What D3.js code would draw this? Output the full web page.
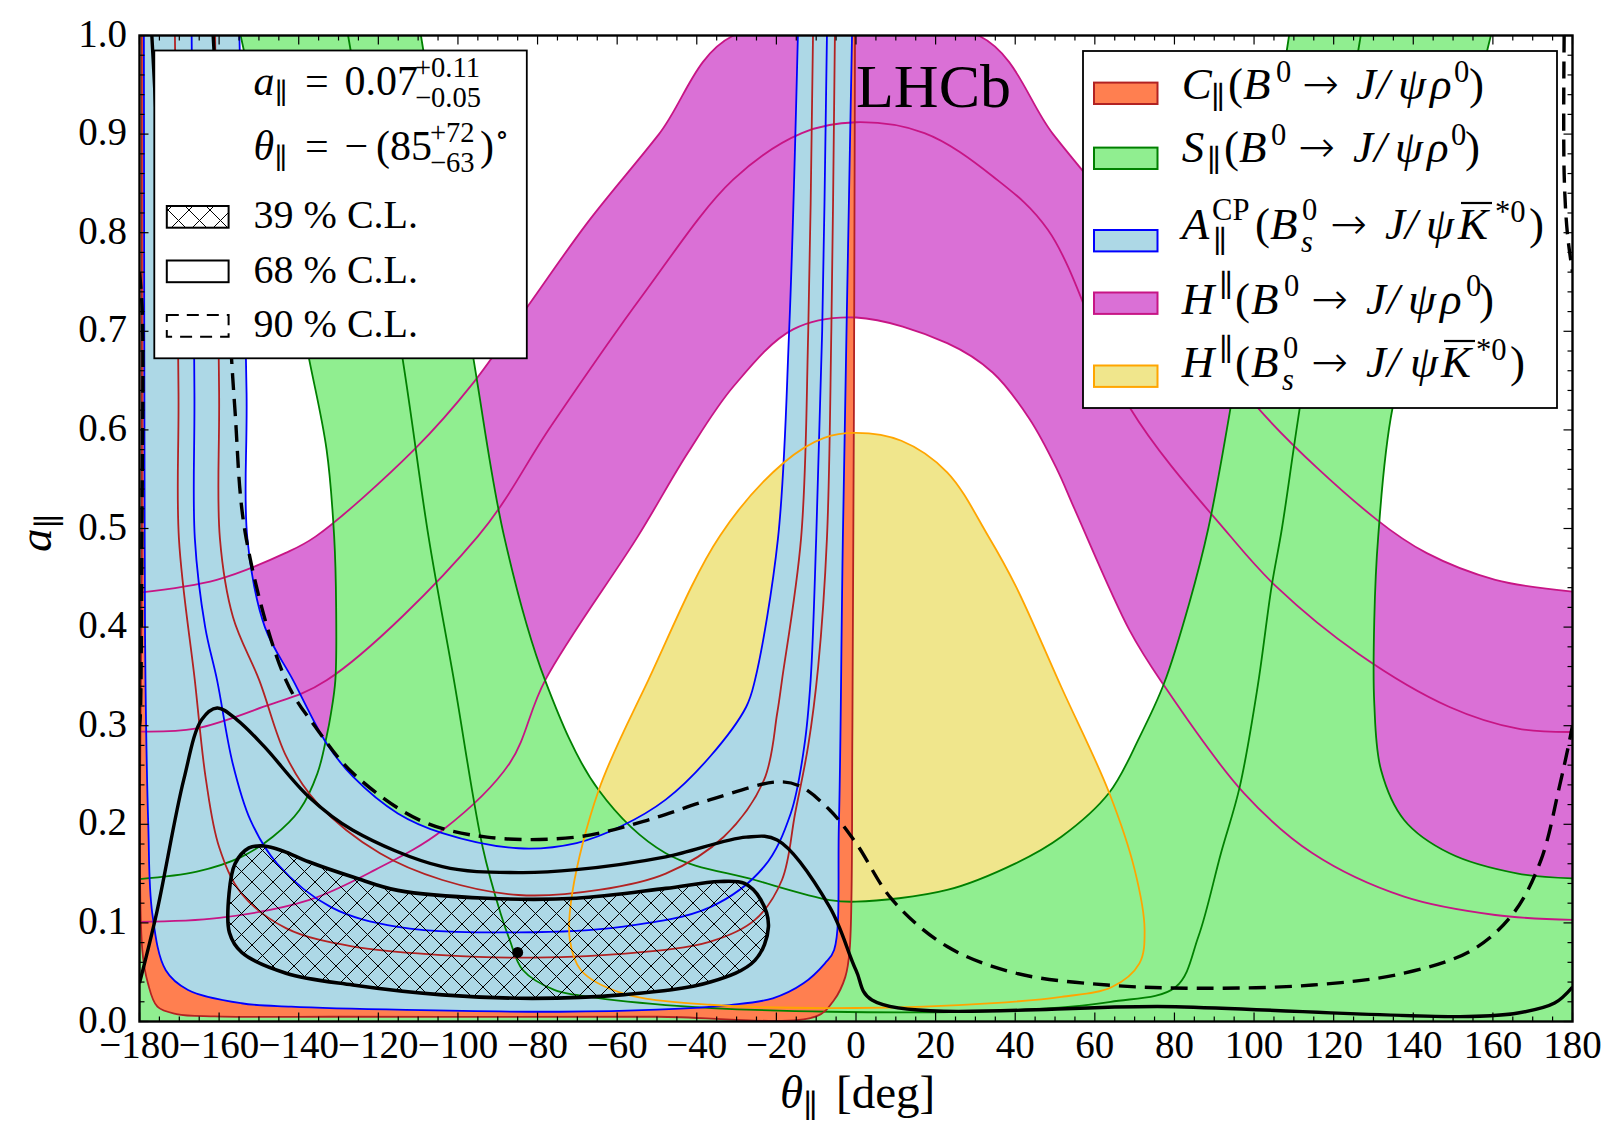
<!DOCTYPE html>
<html>
<head>
<meta charset="utf-8">
<script src="https://cdn.jsdelivr.net/npm/d3@7"></script>
<style>
  body { margin: 0; background: #fff; }
  svg text { font-family: "Liberation Serif", "DejaVu Serif", serif; fill: #000; }
</style>
</head>
<body>
<svg id="chart" width="1613" height="1127"></svg>
<script>
// ---- axis ticks ----
const thetaTicks = [-180, -160, -140, -120, -100, -80, -60, -40, -20, 0, 20, 40, 60, 80, 100, 120, 140, 160, 180];
const aTicks = [0.0, 0.1, 0.2, 0.3, 0.4, 0.5, 0.6, 0.7, 0.8, 0.9, 1.0];

// ---- C_par (B0 -> J/psi rho0): lower edge, central, upper edge  [theta, a] ----
const cLow = [[-179.45,1.0],[-179.4,0.5],[-179.3,0.0725],[-177.9,0.039],[-175.5,0.015],[-170.7,0.0076],[-161.1,0.0052],[-130,0.0048],[-90,0.0047],[-50,0.0048],[-10.0,0.0052],[-5.5,0.0218],[-2.7,0.045],[-1.6,0.0725],[-0.9,0.3],[-0.25,1.0]];
const cMid = [[-171.1,1.0],[-170.2,0.637],[-170.1,0.49],[-166.1,0.346],[-163.3,0.245],[-160.0,0.177],[-154.4,0.130],[-143.1,0.0945],[-126.3,0.0759],[-103.9,0.0674],[-84.8,0.0647],[-59.0,0.0685],[-36.6,0.081],[-25.4,0.103],[-18.6,0.1435],[-15.3,0.211],[-12.0,0.28],[-9.5,0.36],[-7.3,0.49],[-6.2,0.7],[-5.3,1.0]];
const cHigh = [[-161.0,1.0],[-160.0,0.637],[-159.8,0.49],[-156.5,0.41],[-149.9,0.346],[-143.1,0.2686],[-135.3,0.2213],[-119.6,0.1706],[-103.9,0.1435],[-84.8,0.1283],[-64.6,0.1334],[-47.8,0.150],[-33.2,0.1874],[-23.1,0.245],[-19.8,0.3126],[-18.6,0.346],[-13.8,0.49],[-12.0,0.7],[-10.8,1.0]];

// ---- A_par^CP (Bs0 -> J/psi K*0bar) ----
const aLow = [[-178.9,1.0],[-178.7,0.49],[-178.5,0.346],[-177.8,0.2],[-176.8,0.110],[-173.4,0.052],[-167.8,0.032],[-154.4,0.0185],[-141.9,0.015],[-113.1,0.0117],[-74.6,0.0099],[-50,0.012],[-31.7,0.0167],[-20.9,0.0235],[-13.2,0.0387],[-7.8,0.059],[-5.5,0.0725],[-4.3,0.2],[-3.3,0.49],[-1.0,1.0]];
const aMid = [[-166.9,1.0],[-166.2,0.637],[-166.1,0.49],[-163.5,0.40],[-160.5,0.346],[-156.6,0.262],[-152.1,0.204],[-145.4,0.160],[-131.9,0.116],[-115.1,0.096],[-84.8,0.0904],[-59.0,0.096],[-36.6,0.116],[-23.1,0.157],[-16.4,0.211],[-13.0,0.279],[-11.4,0.346],[-10.0,0.49],[-8.5,0.7],[-7.3,1.0]];
const aHigh = [[-154.9,1.0],[-153.1,0.637],[-152.9,0.49],[-148.5,0.40],[-141.4,0.346],[-133.0,0.282],[-126.3,0.248],[-115.1,0.211],[-103.9,0.191],[-84.8,0.1757],[-70.2,0.181],[-59.0,0.198],[-47.8,0.225],[-36.6,0.269],[-27.6,0.319],[-25.4,0.346],[-19.6,0.49],[-16.8,0.7],[-14.6,1.0]];

// ---- H^par (B0 -> J/psi rho0) ----
const hRhoOuter = [[-180,0.435],[-160.6,0.448],[-143.4,0.475],[-135.7,0.492],[-111.0,0.580],[-96.1,0.648],[-82.4,0.7257],[-67.5,0.810],[-49.5,0.900],[-30.8,1.0],[30.8,1.0],[49.5,0.900],[67.5,0.810],[82.4,0.7257],[100.9,0.6225],[130.8,0.509],[143.4,0.475],[160.6,0.448],[180,0.436]];
const hRhoMid = [[-180,0.294],[-166,0.297],[-149,0.319],[-133.0,0.346],[-95.0,0.492],[-76.6,0.604],[-53.7,0.736],[-30.8,0.854],[-13.6,0.901],[0,0.912],[17.2,0.901],[34.4,0.857],[48.2,0.803],[68.8,0.6225],[94.0,0.4924],[105.6,0.441],[126.2,0.373],[149.1,0.319],[166.3,0.297],[180,0.2936]];
const hRhoInner = [[-180,0.101],[-160,0.105],[-137.5,0.123],[-120.7,0.154],[-103.9,0.194],[-87.0,0.262],[-78.1,0.346],[-54.8,0.492],[-42.2,0.577],[-30.7,0.6445],[-15.8,0.702],[0,0.714],[22.9,0.688],[34.4,0.658],[43.6,0.611],[50.5,0.56],[55.0,0.519],[68.7,0.397],[77.0,0.343],[97.5,0.2314],[114.7,0.1706],[137.7,0.1266],[160.6,0.108],[180,0.103]];

// ---- S_par (B0 -> J/psi rho0) ----
const sEdgeLeft = [[-154.6,1.0],[-146.0,0.84],[-137.4,0.672],[-133.0,0.58],[-131.1,0.492],[-130.6,0.42],[-130.8,0.346],[-131.9,0.3126],[-133.0,0.289],[-135.3,0.2517],[-139.8,0.2145],[-146.5,0.1874],[-154.4,0.167],[-165.6,0.152],[-180,0.1445]];
const sEdgeRight = [[159.5,1.0],[147.0,0.80],[134.8,0.6225],[131.2,0.4924],[130.2,0.407],[130.2,0.3227],[131.9,0.255],[137.7,0.2044],[149.1,0.1706],[166.3,0.150],[180,0.1452]];
const sEdgeInner = [[-109.3,1.0],[-96.1,0.672],[-88.4,0.492],[-78.1,0.346],[-64.7,0.235],[-47.8,0.1706],[-25.4,0.1435],[-6.6,0.1232],[0,0.1215],[22.9,0.1334],[40.1,0.1604],[51.6,0.1874],[63.6,0.232],[71.3,0.289],[77.4,0.343],[83.7,0.424],[88.5,0.50],[94.1,0.6225],[108.8,1.0]];
const sCentral = [[-127.6,1.0],[-113.9,0.672],[-107.4,0.492],[-101.0,0.346],[-93.8,0.177],[-89.3,0.1097],[-87.0,0.0827],[-83.7,0.0522],[-75.8,0.032],[-70.2,0.0269],[-47.8,0.0167],[-6.6,0.0099],[40.8,0.0117],[64,0.020],[80.3,0.035],[86.0,0.086],[91.7,0.171],[96.4,0.238],[100.9,0.3396],[104.4,0.441],[107.0,0.50],[111.5,0.6225],[126.8,1.0]];

// ---- H^par (Bs0 -> J/psi K*0bar), closed contour ----
const hKst = [[0,0.597],[11.4,0.589],[22.9,0.557],[33.2,0.4924],[40.2,0.441],[51.6,0.339],[63.6,0.232],[70.0,0.154],[72.5,0.093],[71.2,0.059],[64.3,0.035],[51.6,0.025],[34.5,0.0187],[0,0.0137],[-36.7,0.017],[-59.0,0.029],[-69.1,0.052],[-71.9,0.083],[-71.3,0.130],[-64.6,0.235],[-52.2,0.346],[-34.2,0.4925],[-18.1,0.567],[-8.0,0.592]];

// ---- combined likelihood contours ----
const cl39 = [[-157.4,0.09],[-157.5,0.13],[-156.0,0.16],[-152.5,0.176],[-148.7,0.178],[-144.0,0.173],[-137.5,0.162],[-126.0,0.146],[-115.1,0.133],[-92.7,0.125],[-70.3,0.125],[-47.8,0.135],[-34.3,0.142],[-28.0,0.140],[-24.0,0.124],[-22.0,0.096],[-25.4,0.062],[-36.6,0.040],[-59.0,0.027],[-81.4,0.0235],[-103.9,0.027],[-126.4,0.037],[-143.2,0.049],[-154.3,0.070]];
const cl68 = [[-180,0.039],[-175.7,0.110],[-168.9,0.245],[-164.4,0.306],[-160.5,0.318],[-155.5,0.306],[-148.7,0.279],[-137.5,0.228],[-126.4,0.194],[-103.9,0.157],[-84.8,0.151],[-70.3,0.154],[-47.8,0.167],[-27.6,0.187],[-19.8,0.184],[-6.6,0.116],[0,0.052],[4.0,0.0218],[80.3,0.015],[153.8,0.005],[166.3,0.0086],[175.5,0.0187],[180,0.035]];
const cl68Corner = [[-176.9,1.0],[-176.1,0.94],[-175.6,0.90]];
const cl90 = [[-161.5,1.0],[-158.8,0.81],[-156.1,0.625],[-153.2,0.49],[-143.2,0.346],[-135.3,0.296],[-126.4,0.252],[-109.5,0.204],[-92.7,0.187],[-70.3,0.187],[-53.4,0.203],[-36.6,0.225],[-19.8,0.243],[-14.2,0.239],[-6.6,0.2145],[0,0.181],[9.2,0.123],[22.9,0.076],[40.2,0.049],[63.1,0.037],[86.0,0.0337],[114.7,0.037],[137.7,0.049],[154.8,0.0725],[165.2,0.110],[172.1,0.164],[176.7,0.238],[178.9,0.278],[180,0.30]];
const cl90EdgeRight = [[177.9,1.0],[177.9,0.86],[178.7,0.80],[180,0.76]];
const cl90EdgeLeft = [[-180,0.76],[-179.3,0.72],[-179.4,0.50],[-179.8,0.31],[-180,0.30]];
const bestFit = [-85, 0.07];

// ---- colours ----
const col = {
  c: { fill: "#FF7F50", edge: "#B22222" },
  s: { fill: "#90EE90", edge: "#008000" },
  a: { fill: "#ADD8E6", edge: "#0000FF" },
  h: { fill: "#DA70D6", edge: "#C71585" },
  k: { fill: "#F0E68C", edge: "#FFA500" }
};

// ---- layout ----
const L = 139.5, R = 1572.5, T = 35.5, B = 1021.5;
const svg = d3.select("#chart");
const x = d3.scaleLinear().domain([-180, 180]).range([L, R]);
const y = d3.scaleLinear().domain([0, 1]).range([B, T]);
const line = d3.line().x(d => x(d[0])).y(d => y(d[1])).curve(d3.curveCatmullRom.alpha(0.5));
const loop = d3.line().x(d => x(d[0])).y(d => y(d[1])).curve(d3.curveCatmullRomClosed.alpha(0.5));

const defs = svg.append("defs");
defs.append("clipPath").attr("id", "plotClip")
  .append("rect").attr("x", L).attr("y", T).attr("width", R - L).attr("height", B - T);
const hp = 21;
defs.append("pattern").attr("id", "hatchX")
  .attr("patternUnits", "userSpaceOnUse").attr("width", hp).attr("height", hp)
  .append("path").attr("d", `M0,0L${hp},${hp}M${hp},0L0,${hp}M-1,${hp - 1}L1,${hp + 1}M${hp - 1},-1L${hp + 1},1`)
  .attr("stroke", "#000").attr("stroke-width", 1);

// join curve pieces into one closed region outline
function region(pieces) {
  let s = "";
  pieces.forEach((p, i) => {
    if (p.length === 1) s += (i ? "L" : "M") + x(p[0][0]) + "," + y(p[0][1]);
    else { const d = line(p); s += i ? "L" + d.slice(1) : d; }
  });
  return s + "Z";
}
const rev = a => a.slice().reverse();

const plot = svg.append("g").attr("clip-path", "url(#plotClip)");

// filled bands, back to front
plot.append("path").attr("d", region([hRhoOuter, rev(hRhoInner)])).attr("fill", col.h.fill);
plot.append("path").attr("d", loop(hKst)).attr("fill", col.k.fill);
plot.append("path").attr("d", region([[[-180, 0]], rev(sEdgeLeft), sEdgeInner, sEdgeRight, [[180, 0]]])).attr("fill", col.s.fill);
plot.append("path").attr("d", region([cHigh, rev(cLow)])).attr("fill", col.c.fill);
plot.append("path").attr("d", region([aHigh, rev(aLow)])).attr("fill", col.a.fill);

// band edges and central curves
const lw = 1.8;
[[hRhoOuter, col.h.edge], [hRhoMid, col.h.edge], [hRhoInner, col.h.edge],
 [sEdgeLeft, col.s.edge], [sEdgeRight, col.s.edge], [sEdgeInner, col.s.edge], [sCentral, col.s.edge],
 [cLow, col.c.edge], [cMid, col.c.edge], [cHigh, col.c.edge],
 [aLow, col.a.edge], [aMid, col.a.edge], [aHigh, col.a.edge]
].forEach(([d, c]) => plot.append("path").attr("d", line(d)).attr("fill", "none").attr("stroke", c).attr("stroke-width", lw));
plot.append("path").attr("d", loop(hKst)).attr("fill", "none").attr("stroke", col.k.edge).attr("stroke-width", lw);

// confidence-level contours
plot.append("path").attr("d", loop(cl39)).attr("fill", "url(#hatchX)").attr("stroke", "#000").attr("stroke-width", 3.6);
[cl68, cl68Corner].forEach(d => plot.append("path").attr("d", line(d)).attr("fill", "none").attr("stroke", "#000").attr("stroke-width", 3.4));
[cl90, cl90EdgeRight, cl90EdgeLeft].forEach(d => plot.append("path").attr("d", line(d)).attr("fill", "none")
  .attr("stroke", "#000").attr("stroke-width", 3.4).attr("stroke-dasharray", "17,9"));
plot.append("circle").attr("cx", x(bestFit[0])).attr("cy", y(bestFit[1])).attr("r", 5.5).attr("fill", "#000");

// ---- math-style text: one <text> per expression, tspans for scripts ----
function mt(g, x0, y0, size, parts) {
  const t = g.append("text").attr("x", x0).attr("y", y0);
  let cx = x0, held = 0;
  parts.forEach(p => {
    const s = p.fs || ((p.sub || p.sup) ? size * 0.68 : size);
    let dy = p.dy || 0;
    if (p.sup) dy = p.stack ? -size * 0.42 : -size * 0.38;
    if (p.sub) dy = p.stack ? size * 0.28 : size * 0.20;
    if (p.at !== undefined) cx = p.at;
    cx += p.gl || 0;
    const ts = t.append("tspan").attr("x", cx).attr("y", y0 + dy)
      .style("font-size", s + "px").style("font-style", p.i ? "italic" : "normal").text(p.t);
    if (p.ff) ts.style("font-family", p.ff);
    if (p.fw) ts.style("font-weight", p.fw);
    const w = ts.node().getComputedTextLength();
    if (p.bar) g.append("line").attr("x1", cx + 3).attr("x2", cx + w + 4)
      .attr("y1", y0 + dy - s * 0.80).attr("y2", y0 + dy - s * 0.80).attr("stroke", "#000").attr("stroke-width", 2.2);
    if (p.hold) held = w;
    else { cx += Math.max(w, held) + (p.gr || 0); held = 0; }
  });
  return t;
}

// ---- LHCb label ----
svg.append("text").attr("x", 856).attr("y", 107).style("font-size", "62px").text("LHCb");

// ---- left legend ----
const lg = svg.append("g");
lg.append("rect").attr("x", 154.3).attr("y", 50.5).attr("width", 372.5).attr("height", 307.8)
  .attr("fill", "#fff").attr("stroke", "#000").attr("stroke-width", 1.8);
mt(lg, 253.6, 95, 42, [{ t: "a", i: 1 }, { t: "∥", sub: 1 }, { t: "=", at: 305 }, { t: "0.07", at: 344.6 },
  { t: "+0.11", sup: 1, stack: 1, hold: 1, at: 415 }, { t: "−0.05", sub: 1, stack: 1, at: 415 }]);
mt(lg, 253.6, 160, 42, [{ t: "θ", i: 1 }, { t: "∥", sub: 1 }, { t: "=", at: 305 }, { t: "−", at: 344.6 }, { t: "(", at: 376 },
  { t: "85", at: 390 }, { t: "+72", sup: 1, stack: 1, hold: 1, at: 430 }, { t: "−63", sub: 1, stack: 1, at: 430 }, { t: ")", at: 480 }, { t: "∘", sup: 1, at: 495 }]);
lg.append("rect").attr("x", 166.8).attr("y", 206).attr("width", 61.8).attr("height", 21.7)
  .attr("fill", "url(#hatchX)").attr("stroke", "#000").attr("stroke-width", 2);
lg.append("rect").attr("x", 166.8).attr("y", 260.5).attr("width", 61.8).attr("height", 21.7)
  .attr("fill", "none").attr("stroke", "#000").attr("stroke-width", 2);
lg.append("rect").attr("x", 166.8).attr("y", 315).attr("width", 61.8).attr("height", 21.7)
  .attr("fill", "none").attr("stroke", "#000").attr("stroke-width", 2).attr("stroke-dasharray", "12,8");
[["39 % C.L.", 227.7], ["68 % C.L.", 282.7], ["90 % C.L.", 337.3]].forEach(([t, yy]) =>
  lg.append("text").attr("x", 253.6).attr("y", yy).style("font-size", "40px").text(t));

// ---- right legend ----
const rg = svg.append("g");
rg.append("rect").attr("x", 1083).attr("y", 51).attr("width", 474).attr("height", 357)
  .attr("fill", "#fff").attr("stroke", "#000").attr("stroke-width", 1.8);
const arr = at => ({ t: "→", at: at, ff: "DejaVu Sans", fs: 44, fw: 200 });
const entries = [
  { c: col.c, py: 93.3, ty: 99, parts: [{ t: "C", i: 1, at: 1181.7 }, { t: "∥", sub: 1, at: 1211 }, { t: "(", at: 1228 }, { t: "B", i: 1, at: 1243 }, { t: "0", sup: 1, at: 1276 }, arr(1302), { t: "J", i: 1, at: 1356 }, { t: "/", i: 1, at: 1377 }, { t: "ψ", i: 1, at: 1398 }, { t: "ρ", i: 1, at: 1430 }, { t: "0", sup: 1, at: 1454 }, { t: ")", at: 1469 }] },
  { c: col.s, py: 158.3, ty: 162, parts: [{ t: "S", i: 1, at: 1181.7 }, { t: "∥", sub: 1, at: 1207 }, { t: "(", at: 1224 }, { t: "B", i: 1, at: 1239 }, { t: "0", sup: 1, at: 1271 }, arr(1298), { t: "J", i: 1, at: 1353 }, { t: "/", i: 1, at: 1374 }, { t: "ψ", i: 1, at: 1395 }, { t: "ρ", i: 1, at: 1427 }, { t: "0", sup: 1, at: 1451 }, { t: ")", at: 1465 }] },
  { c: col.a, py: 240.7, ty: 239, parts: [{ t: "A", i: 1, at: 1181.7 }, { t: "CP", sup: 1, stack: 1, hold: 1, at: 1212 }, { t: "∥", sub: 1, stack: 1, at: 1213 }, { t: "(", at: 1255 }, { t: "B", i: 1, at: 1270 }, { t: "0", sup: 1, stack: 1, hold: 1, at: 1302 }, { t: "s", sub: 1, stack: 1, i: 1, at: 1301 }, arr(1330), { t: "J", i: 1, at: 1385 }, { t: "/", i: 1, at: 1405 }, { t: "ψ", i: 1, at: 1426 }, { t: "K", i: 1, bar: 1, at: 1458 }, { t: "*0", sup: 1, at: 1495 }, { t: ")", at: 1529 }] },
  { c: col.h, py: 303.2, ty: 313.5, parts: [{ t: "H", i: 1, at: 1181.7 }, { t: "∥", sup: 1, at: 1219 }, { t: "(", at: 1235 }, { t: "B", i: 1, at: 1251 }, { t: "0", sup: 1, at: 1284 }, arr(1311), { t: "J", i: 1, at: 1366 }, { t: "/", i: 1, at: 1387 }, { t: "ψ", i: 1, at: 1408 }, { t: "ρ", i: 1, at: 1440 }, { t: "0", sup: 1, at: 1466 }, { t: ")", at: 1479 }] },
  { c: col.k, py: 376.2, ty: 377, parts: [{ t: "H", i: 1, at: 1181.7 }, { t: "∥", sup: 1, at: 1219 }, { t: "(", at: 1235 }, { t: "B", i: 1, at: 1251 }, { t: "0", sup: 1, stack: 1, hold: 1, at: 1283 }, { t: "s", sub: 1, stack: 1, i: 1, at: 1282 }, arr(1311), { t: "J", i: 1, at: 1366 }, { t: "/", i: 1, at: 1387 }, { t: "ψ", i: 1, at: 1410 }, { t: "K", i: 1, bar: 1, at: 1441 }, { t: "*0", sup: 1, at: 1476 }, { t: ")", at: 1510 }] }
];
entries.forEach(e => {
  rg.append("rect").attr("x", 1094).attr("y", e.py - 10.7).attr("width", 63.5).attr("height", 21.4)
    .attr("fill", e.c.fill).attr("stroke", e.c.edge).attr("stroke-width", 2);
  mt(rg, 1181.7, e.ty, 45, e.parts);
});

// ---- frame and inward ticks ----
const ax = svg.append("g");
const tk = (x1, y1, x2, y2) => ax.append("line").attr("x1", x1).attr("y1", y1).attr("x2", x2).attr("y2", y2)
  .attr("stroke", "#000").attr("stroke-width", 1.2);
d3.range(-180, 181, 5).forEach(v => {
  const len = v % 20 === 0 ? 9 : 5;
  tk(x(v), B, x(v), B - len); tk(x(v), T, x(v), T + len);
});
d3.range(0, 51, 1).forEach(k => {
  const v = k / 50, len = k % 5 === 0 ? 9 : 5;
  tk(L, y(v), L + len, y(v)); tk(R, y(v), R - len, y(v));
});
ax.append("rect").attr("x", L).attr("y", T).attr("width", R - L).attr("height", B - T)
  .attr("fill", "none").attr("stroke", "#000").attr("stroke-width", 2.4);

// tick labels
thetaTicks.forEach(v => svg.append("text").attr("x", x(v)).attr("y", 1058)
  .attr("text-anchor", "middle").style("font-size", "39px").text(v < 0 ? "−" + Math.abs(v) : String(v)));
aTicks.forEach(v => svg.append("text").attr("x", 127).attr("y", y(v) + 11)
  .attr("text-anchor", "end").style("font-size", "39px").text(d3.format(".1f")(v)));

// axis titles
mt(svg, 780, 1108, 47, [{ t: "θ", i: 1 }, { t: "∥", sub: 1 }, { t: "[deg]", at: 836 }]);
const yl = svg.append("g").attr("transform", "translate(51,552) rotate(-90)");
mt(yl, 0, 0, 47, [{ t: "a", i: 1 }, { t: "∥", sub: 1 }]);
</script>
</body>
</html>
